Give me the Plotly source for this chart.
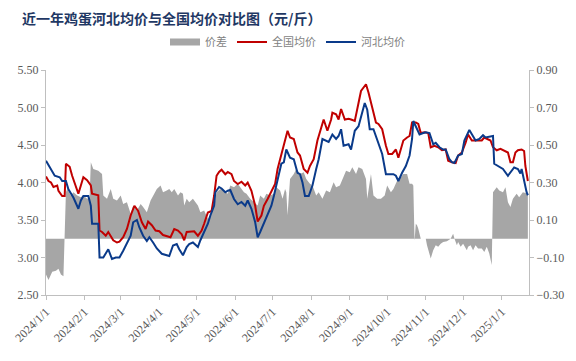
import plotly.graph_objects as go

title_text = "近一年鸡蛋河北均价与全国均价对比图（元/斤）"

red_dates = ["2024-01-01","2024-01-03","2024-01-05","2024-01-07","2024-01-10","2024-01-11","2024-01-14","2024-01-16","2024-01-17","2024-01-20",
"2024-01-22","2024-01-25","2024-01-27","2024-01-29","2024-01-31","2024-02-03","2024-02-06","2024-02-07","2024-02-12","2024-02-13",
"2024-02-15","2024-02-18","2024-02-20","2024-02-24","2024-02-27","2024-02-29","2024-03-03","2024-03-06","2024-03-09","2024-03-12",
"2024-03-15","2024-03-18","2024-03-21","2024-03-23","2024-03-26","2024-03-29","2024-04-01","2024-04-04","2024-04-07","2024-04-10",
"2024-04-13","2024-04-16","2024-04-19","2024-04-21","2024-04-23","2024-04-27","2024-04-29","2024-05-02","2024-05-05","2024-05-07",
"2024-05-10","2024-05-13","2024-05-15","2024-05-17","2024-05-19","2024-05-21","2024-05-24","2024-05-26","2024-05-29","2024-05-31",
"2024-06-03","2024-06-06","2024-06-09","2024-06-11","2024-06-14","2024-06-17","2024-06-19","2024-06-22","2024-06-24","2024-06-27",
"2024-06-30","2024-07-03","2024-07-05","2024-07-08","2024-07-10","2024-07-13","2024-07-15","2024-07-18","2024-07-21","2024-07-23",
"2024-07-26","2024-07-29","2024-07-31","2024-08-03","2024-08-06","2024-08-09","2024-08-11","2024-08-14","2024-08-17","2024-08-18",
"2024-08-21","2024-08-23","2024-08-25","2024-08-28","2024-08-31","2024-09-02","2024-09-05","2024-09-08","2024-09-10","2024-09-14",
"2024-09-16","2024-09-19","2024-09-22","2024-09-24","2024-09-27","2024-09-30","2024-10-02","2024-10-05","2024-10-08","2024-10-10",
"2024-10-13","2024-10-14","2024-10-17","2024-10-19","2024-10-21","2024-10-24","2024-10-26","2024-10-28","2024-10-31","2024-11-03",
"2024-11-05","2024-11-08","2024-11-11","2024-11-14","2024-11-17","2024-11-19","2024-11-22","2024-11-25","2024-11-27","2024-11-30",
"2024-12-03","2024-12-05","2024-12-08","2024-12-11","2024-12-16","2024-12-18","2024-12-21","2024-12-23","2024-12-25","2024-12-28",
"2024-12-31","2025-01-04","2025-01-06","2025-01-08","2025-01-10","2025-01-12","2025-01-14","2025-01-17","2025-01-19","2025-01-20",
"2025-01-22"]
red_vals = [4.08,4.02,4.00,3.94,3.96,3.89,3.82,3.82,4.25,4.21,
4.09,3.96,3.85,3.96,4.07,4.03,3.96,3.85,3.83,3.36,
3.34,3.29,3.34,3.23,3.20,3.21,3.27,3.38,3.56,3.69,
3.62,3.47,3.38,3.48,3.43,3.36,3.35,3.30,3.29,3.27,
3.38,3.36,3.31,3.23,3.34,3.35,3.35,3.29,3.36,3.45,
3.60,3.62,3.82,4.09,4.14,4.17,4.11,4.14,4.11,4.02,
3.98,4.01,3.96,4.00,3.89,3.69,3.48,3.56,3.69,3.78,
3.87,3.98,4.18,4.36,4.51,4.69,4.60,4.58,4.40,4.36,
4.18,4.13,4.22,4.31,4.56,4.75,4.84,4.69,4.84,4.93,
4.91,4.84,4.98,4.84,4.85,4.84,4.82,5.06,5.22,5.31,
5.20,5.00,4.80,4.78,4.71,4.49,4.38,4.38,4.44,4.33,
4.53,4.56,4.60,4.62,4.80,4.80,4.78,4.66,4.67,4.66,
4.47,4.49,4.47,4.43,4.44,4.29,4.27,4.26,4.36,4.40,
4.53,4.64,4.56,4.56,4.56,4.60,4.58,4.56,4.47,4.43,
4.45,4.42,4.40,4.27,4.27,4.40,4.43,4.44,4.42,4.22,
4.02]

blue_dates = ["2024-01-01","2024-01-05","2024-01-08","2024-01-12","2024-01-14","2024-01-17","2024-01-19","2024-01-23","2024-01-27","2024-01-29",
"2024-01-31","2024-02-04","2024-02-06","2024-02-07","2024-02-12","2024-02-13","2024-02-16","2024-02-20","2024-02-23","2024-02-26",
"2024-02-29","2024-03-03","2024-03-06","2024-03-09","2024-03-11","2024-03-14","2024-03-16","2024-03-19","2024-03-22","2024-03-24",
"2024-03-27","2024-03-30","2024-04-03","2024-04-07","2024-04-09","2024-04-12","2024-04-15","2024-04-17","2024-04-20","2024-04-23",
"2024-04-25","2024-04-28","2024-05-02","2024-05-04","2024-05-07","2024-05-10","2024-05-12","2024-05-15","2024-05-16","2024-05-19",
"2024-05-21","2024-05-24","2024-05-26","2024-05-28","2024-05-31","2024-06-03","2024-06-06","2024-06-09","2024-06-11","2024-06-14",
"2024-06-17","2024-06-19","2024-06-21","2024-06-24","2024-06-27","2024-06-30","2024-07-02","2024-07-05","2024-07-08","2024-07-10",
"2024-07-12","2024-07-15","2024-07-18","2024-07-21","2024-07-23","2024-07-25","2024-07-27","2024-07-30","2024-08-02","2024-08-05",
"2024-08-07","2024-08-10","2024-08-13","2024-08-15","2024-08-18","2024-08-21","2024-08-23","2024-08-25","2024-08-27","2024-08-31",
"2024-09-02","2024-09-05","2024-09-08","2024-09-10","2024-09-13","2024-09-15","2024-09-17","2024-09-20","2024-09-23","2024-09-27",
"2024-09-30","2024-10-03","2024-10-06","2024-10-08","2024-10-10","2024-10-13","2024-10-16","2024-10-19","2024-10-21","2024-10-22",
"2024-10-24","2024-10-27","2024-10-30","2024-11-01","2024-11-04","2024-11-07","2024-11-09","2024-11-12","2024-11-15","2024-11-17",
"2024-11-20","2024-11-22","2024-11-24","2024-11-27","2024-11-30","2024-12-02","2024-12-06","2024-12-09","2024-12-11","2024-12-14",
"2024-12-17","2024-12-19","2024-12-22","2024-12-25","2024-12-26","2024-12-29","2025-01-02","2025-01-06","2025-01-09","2025-01-11",
"2025-01-14","2025-01-16","2025-01-17","2025-01-19","2025-01-21","2025-01-22"]
blue_vals = [4.29,4.18,4.09,4.07,4.02,4.02,3.91,3.80,3.65,3.76,
3.82,3.82,3.69,3.45,3.45,3.00,3.00,3.11,2.98,3.00,
3.00,3.09,3.20,3.29,3.47,3.50,3.40,3.29,3.22,3.27,
3.20,3.12,3.05,3.03,3.02,3.16,3.18,3.11,3.03,3.14,
3.18,3.20,3.14,3.23,3.34,3.45,3.56,3.69,3.87,3.94,
3.92,3.87,3.89,3.90,3.78,3.71,3.74,3.69,3.76,3.65,
3.47,3.27,3.34,3.45,3.56,3.69,3.82,4.05,4.25,4.27,
4.44,4.33,4.31,4.13,4.11,4.00,3.82,3.82,3.96,4.18,
4.31,4.58,4.56,4.54,4.64,4.58,4.62,4.71,4.49,4.51,
4.44,4.69,4.75,4.89,5.06,4.97,4.71,4.71,4.58,4.38,
4.11,4.11,4.11,4.09,4.02,4.13,4.22,4.36,4.58,4.82,
4.75,4.64,4.66,4.67,4.66,4.51,4.53,4.47,4.44,4.44,
4.31,4.27,4.26,4.36,4.38,4.56,4.70,4.62,4.56,4.58,
4.63,4.60,4.61,4.62,4.25,4.22,4.18,4.09,4.16,4.20,
4.18,4.12,4.18,4.00,3.87,3.83]

diff_dates = ["2024-01-01","2024-01-03","2024-01-06","2024-01-09","2024-01-11","2024-01-13","2024-01-15","2024-01-16","2024-01-17","2024-01-18",
"2024-01-21","2024-01-23","2024-01-26","2024-01-29","2024-01-31","2024-02-03","2024-02-05","2024-02-06","2024-02-08","2024-02-12",
"2024-02-15","2024-02-16","2024-02-19","2024-02-22","2024-02-24","2024-02-27","2024-03-01","2024-03-03","2024-03-06","2024-03-09",
"2024-03-11","2024-03-14","2024-03-17","2024-03-19","2024-03-22","2024-03-25","2024-03-27","2024-03-30","2024-04-02","2024-04-04",
"2024-04-07","2024-04-09","2024-04-11","2024-04-13","2024-04-16","2024-04-18","2024-04-20","2024-04-21","2024-04-23","2024-04-25",
"2024-04-28","2024-05-02","2024-05-04","2024-05-07","2024-05-10","2024-05-12","2024-05-15","2024-05-17","2024-05-20","2024-05-23",
"2024-05-26","2024-05-28","2024-05-31","2024-06-03","2024-06-05","2024-06-08","2024-06-10","2024-06-13","2024-06-16","2024-06-19",
"2024-06-21","2024-06-24","2024-06-26","2024-06-29","2024-07-02","2024-07-04","2024-07-07","2024-07-09","2024-07-11","2024-07-12",
"2024-07-13","2024-07-15","2024-07-18","2024-07-20","2024-07-23","2024-07-26","2024-07-28","2024-07-31","2024-08-02","2024-08-05",
"2024-08-07","2024-08-10","2024-08-13","2024-08-16","2024-08-19","2024-08-21","2024-08-24","2024-08-26","2024-08-29","2024-09-01",
"2024-09-03","2024-09-06","2024-09-08","2024-09-11","2024-09-14","2024-09-15","2024-09-18","2024-09-20","2024-09-23","2024-09-26",
"2024-09-29","2024-10-01","2024-10-04","2024-10-06","2024-10-09","2024-10-12","2024-10-14","2024-10-17","2024-10-19","2024-10-21",
"2024-10-22","2024-10-23","2024-10-24","2024-10-25","2024-10-26","2024-10-28","2024-10-29","2024-11-01","2024-11-02","2024-11-04",
"2024-11-05","2024-11-07","2024-11-09","2024-11-11","2024-11-13","2024-11-15","2024-11-18","2024-11-21","2024-11-23","2024-11-24",
"2024-11-26","2024-11-27","2024-11-29","2024-12-01","2024-12-04","2024-12-05","2024-12-07","2024-12-09","2024-12-11","2024-12-13",
"2024-12-16","2024-12-18","2024-12-20","2024-12-22","2024-12-23","2024-12-24","2024-12-25","2024-12-28","2024-12-30","2025-01-02",
"2025-01-04","2025-01-06","2025-01-08","2025-01-10","2025-01-13","2025-01-15","2025-01-18","2025-01-22"]
diff_vals = [-0.19,-0.22,-0.176,-0.17,-0.16,-0.19,-0.20,0.0,0.248,0.266,
0.231,0.248,0.231,0.222,0.231,0.213,0.22,0.408,0.372,0.363,
0.346,0.231,0.213,0.266,0.213,0.204,0.231,0.186,0.195,0.133,
0.178,0.151,0.186,0.169,0.142,0.204,0.231,0.266,0.284,0.248,
0.257,0.266,0.248,0.266,0.231,0.248,0.24,0.178,0.213,0.195,
0.213,0.178,0.142,0.151,0.107,0.125,0.169,0.248,0.266,0.257,
0.24,0.284,0.275,0.293,0.275,0.248,0.24,0.213,0.195,0.178,
0.231,0.213,0.24,0.231,0.24,0.275,0.257,0.213,0.266,0.248,
0.125,0.319,0.346,0.372,0.346,0.355,0.319,0.293,0.284,0.231,
0.248,0.213,0.257,0.248,0.301,0.275,0.284,0.319,0.363,0.355,
0.381,0.346,0.381,0.372,0.319,0.213,0.346,0.231,0.213,0.213,
0.231,0.284,0.248,0.266,0.31,0.328,0.346,0.346,0.293,0.293,
0.284,-0.01,0.08,0.072,0.054,0.0,0.0,0.0,-0.035,-0.079,
-0.105,-0.061,-0.035,-0.043,-0.026,-0.017,-0.013,0.0,0.027,0.001,
-0.035,-0.017,-0.043,-0.026,-0.061,-0.043,-0.035,-0.061,-0.035,-0.052,
-0.052,-0.07,-0.043,-0.079,-0.105,-0.14,0.248,0.275,0.257,0.248,
0.275,0.195,0.169,0.213,0.24,0.222,0.248,0.24]

tick_dates = ["2024-01-01","2024-02-01","2024-03-01","2024-04-01","2024-05-01","2024-06-01","2024-07-01",
"2024-08-01","2024-09-01","2024-10-01","2024-11-01","2024-12-01","2025-01-01"]
tick_labels = ["2024/1/1","2024/2/1","2024/3/1","2024/4/1","2024/5/1","2024/6/1","2024/7/1",
"2024/8/1","2024/9/1","2024/10/1","2024/11/1","2024/12/1","2025/1/1"]

names = ["价差", "全国均价", "河北均价"]

GRAY = "#A6A6A6"
RED = "#C00000"
BLUE = "#0A3A8A"
AXIS = "#BFBFBF"
TICKFONT = dict(family="Liberation Serif, serif", size=12, color="#595959")

fig = go.Figure()
# diff area on the primary (right-side) axis so lines on y2 are drawn above it
fig.add_trace(go.Scatter(x=diff_dates, y=diff_vals, mode="lines", fill="tozeroy",
                         fillcolor=GRAY, line=dict(width=0, color=GRAY),
                         showlegend=False, yaxis="y", hoverinfo="skip"))
# legend proxy for the area
fig.add_trace(go.Scatter(x=[None], y=[None], mode="lines", name=names[0],
                         line=dict(color=GRAY, width=7), yaxis="y"))
fig.add_trace(go.Scatter(x=red_dates, y=red_vals, mode="lines", name=names[1],
                         line=dict(color=RED, width=2), yaxis="y2"))
fig.add_trace(go.Scatter(x=blue_dates, y=blue_vals, mode="lines", name=names[2],
                         line=dict(color=BLUE, width=2), yaxis="y2"))

fig.update_layout(
    width=576, height=361,
    margin=dict(l=43, r=47, t=70, b=64),
    paper_bgcolor="white", plot_bgcolor="white",
    title=dict(text="<b>" + title_text + "</b>", x=22/576, xanchor="left", y=1-19/361, yanchor="middle",
               font=dict(family="Noto Sans CJK SC", size=14, color="#1F3864")),
    legend=dict(orientation="h", x=0.5, xanchor="center", y=1.125, yanchor="middle",
                font=dict(family="Noto Sans CJK SC", size=11, color="#7F7F7F"),
                itemwidth=30, tracegroupgap=0, bgcolor="rgba(0,0,0,0)"),
    xaxis=dict(type="date", range=["2024-01-01", "2025-01-22 22:00"],
               tickvals=tick_dates, ticktext=tick_labels, tickangle=-45,
               tickfont=dict(family="Liberation Serif, serif", size=12, color="#595959"),
               showline=True, linecolor=AXIS, linewidth=1, ticks="outside", ticklen=4,
               tickcolor=AXIS, showgrid=False, zeroline=False),
    yaxis=dict(range=[-0.3, 0.9], side="right", tickvals=[-0.3, -0.1, 0.1, 0.3, 0.5, 0.7, 0.9],
               tickformat=".2f", tickfont=TICKFONT, showline=True, linecolor=AXIS, linewidth=1,
               ticks="outside", ticklen=4, tickcolor=AXIS, showgrid=False, zeroline=False),
    yaxis2=dict(range=[2.5, 5.5], side="left", overlaying="y", tickvals=[2.5, 3.0, 3.5, 4.0, 4.5, 5.0, 5.5],
                tickformat=".2f", tickfont=TICKFONT, showline=True, linecolor=AXIS, linewidth=1,
                ticks="outside", ticklen=4, tickcolor=AXIS, showgrid=False, zeroline=False),
)

fig.write_html("out.html", config={"displayModeBar": False},
               post_script="document.body.style.margin='0';")
